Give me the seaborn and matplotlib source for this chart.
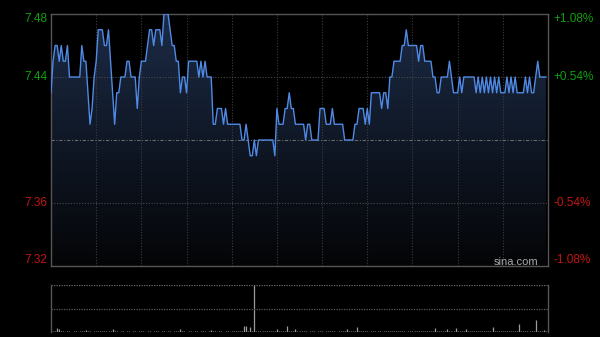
import numpy as np
import pandas as pd
import matplotlib
matplotlib.use("Agg")
import matplotlib.pyplot as plt
import seaborn as sns

# ---------------- data ----------------
prev_close = 7.40
price = [
    7.43, 7.45, 7.46, 7.46, 7.45, 7.46, 7.45, 7.45, 7.46, 7.44,
    7.44, 7.44, 7.44, 7.44, 7.44, 7.46, 7.45, 7.45, 7.43, 7.41,
    7.42, 7.44, 7.45, 7.47, 7.47, 7.47, 7.46, 7.46, 7.47, 7.45,
    7.43, 7.41, 7.43, 7.43, 7.44, 7.44, 7.44, 7.45, 7.45, 7.44,
    7.44, 7.44, 7.42, 7.44, 7.45, 7.45, 7.45, 7.46, 7.47, 7.47,
    7.46, 7.47, 7.47, 7.47, 7.46, 7.48, 7.48, 7.48, 7.47, 7.46,
    7.46, 7.45, 7.45, 7.43, 7.44, 7.44, 7.43, 7.45, 7.45, 7.45,
    7.45, 7.45, 7.44, 7.45, 7.44, 7.45, 7.44, 7.44, 7.44, 7.41,
    7.41, 7.42, 7.42, 7.42, 7.41, 7.42, 7.41, 7.41, 7.41, 7.41,
    7.41, 7.41, 7.41, 7.40, 7.40, 7.41, 7.40, 7.39, 7.39, 7.40,
    7.39, 7.40, 7.40, 7.40, 7.40, 7.40, 7.40, 7.40, 7.40, 7.39,
    7.42, 7.41, 7.41, 7.41, 7.42, 7.42, 7.43, 7.42, 7.42, 7.41,
    7.41, 7.41, 7.41, 7.41, 7.40, 7.41, 7.41, 7.40, 7.40, 7.40,
    7.40, 7.42, 7.42, 7.42, 7.41, 7.41, 7.41, 7.42, 7.41, 7.41,
    7.41, 7.41, 7.41, 7.40, 7.40, 7.40, 7.40, 7.40, 7.41, 7.41,
    7.42, 7.42, 7.42, 7.41, 7.42, 7.41, 7.43, 7.43, 7.43, 7.43,
    7.43, 7.42, 7.43, 7.43, 7.42, 7.44, 7.44, 7.45, 7.45, 7.45,
    7.45, 7.46, 7.46, 7.47, 7.46, 7.46, 7.46, 7.46, 7.46, 7.45,
    7.46, 7.46, 7.45, 7.45, 7.45, 7.45, 7.44, 7.44, 7.43, 7.43,
    7.44, 7.44, 7.44, 7.44, 7.45, 7.44, 7.43, 7.43, 7.43, 7.44,
    7.43, 7.44, 7.44, 7.44, 7.44, 7.44, 7.44, 7.43, 7.44, 7.43,
    7.44, 7.43, 7.44, 7.43, 7.44, 7.43, 7.44, 7.43, 7.44, 7.43,
    7.43, 7.43, 7.44, 7.43, 7.44, 7.43, 7.44, 7.43, 7.43, 7.43,
    7.43, 7.44, 7.43, 7.44, 7.43, 7.43, 7.44, 7.45, 7.44, 7.44,
    7.44, 7.44,
]
volume = [
    3, 2, 2, 8, 7, 2, 2, 1, 2, 2, 1, 2, 2, 1, 2, 2, 2, 4, 2, 2, 1, 2,
    2, 2, 2, 3, 2, 2, 2, 2, 6, 3, 2, 1, 2, 2, 1, 2, 2, 1, 2, 2, 1, 2,
    2, 2, 1, 2, 2, 1, 2, 2, 2, 1, 2, 2, 1, 2, 2, 1, 2, 2, 2, 6, 2, 2,
    1, 2, 2, 1, 2, 2, 1, 2, 2, 2, 1, 2, 4, 2, 2, 1, 2, 2, 1, 2, 2, 1,
    2, 2, 2, 2, 3, 2, 12, 13, 3, 11, 2, 100, 2, 2, 3, 2, 2, 2, 3, 2, 2, 2,
    6, 2, 2, 2, 3, 13, 2, 2, 2, 6, 2, 2, 2, 2, 2, 1, 2, 2, 2, 1, 2, 2,
    2, 1, 2, 2, 2, 2, 2, 1, 2, 2, 2, 2, 6, 2, 2, 2, 2, 10, 2, 2, 2, 2,
    2, 1, 2, 2, 2, 2, 2, 1, 2, 2, 2, 2, 2, 2, 3, 2, 2, 2, 2, 1, 2, 2,
    2, 2, 2, 2, 2, 2, 2, 2, 2, 2, 2, 8, 2, 2, 2, 2, 2, 6, 2, 2, 2, 8,
    2, 2, 2, 2, 6, 2, 2, 2, 2, 2, 2, 2, 2, 2, 2, 2, 2, 10, 2, 2, 2, 2,
    2, 2, 2, 2, 2, 2, 2, 2, 17, 2, 2, 2, 2, 2, 2, 2, 25, 2, 2, 2, 5, 3,
]
left_ticks = [7.48, 7.44, 7.36, 7.32]
left_labels = ["7.48", "7.44", "7.36", "7.32"]
right_labels = ["+1.08%", "+0.54%", "-0.54%", "-1.08%"]
watermark = "sina.com"

n_total = 242
df = pd.DataFrame({"minute": np.arange(len(price)), "price": price,
                   "volume": volume})

# ---------------- style ----------------
sns.set_theme(style="dark")
plt.rcParams["font.family"] = ["Liberation Sans", "DejaVu Sans"]

BG = "#000000"
GRID = "#3c3c3c"
BORDER = "#555555"
LINE = "#4f8ae6"
GREEN = "#11a011"
RED = "#c41414"

fig = plt.figure(figsize=(6.0, 3.37), dpi=100, facecolor=BG)
W, H = 600, 337
ax = fig.add_axes([51 / W, (H - 266) / H, 497 / W, (266 - 14) / H])
axv = fig.add_axes([51 / W, (H - 332) / H, 497 / W, (332 - 285) / H])

ymin, ymax = 7.32, 7.48
for a in (ax, axv):
    a.set_facecolor(BG)
    a.set_xlim(0, n_total)
    a.set_xticks([])
    a.set_yticks([])
    a.grid(False)

ax.set_ylim(ymin, ymax)

# gradient fill under the line
fill = ax.fill_between(df["minute"], df["price"], ymin, color="none", lw=0)
grad = np.linspace(1, 0, 256).reshape(-1, 1)
top_c = np.array([0x1c, 0x2b, 0x46]) / 255
bot_c = np.array([0x04, 0x05, 0x07]) / 255
img = top_c * grad[..., None] + bot_c * (1 - grad[..., None])
im = ax.imshow(img, extent=[0, n_total, ymin, ymax], aspect="auto",
               origin="upper", zorder=1)
path = fill.get_paths()[0]
im.set_clip_path(path, transform=ax.transData)

# grid lines
for k in range(1, 11):
    ax.axvline(22 * k, color=GRID, lw=0.8, ls=(0, (1, 1.5)), zorder=2)
for yv in (7.44, 7.36):
    ax.axhline(yv, color="#4a4a4a", lw=0.8, ls=(0, (1, 1.5)), zorder=2)
ax.axhline(prev_close, color="#6a6a6a", lw=0.8, ls=(0, (3, 1.5, 1, 1.5)),
           zorder=2)

sns.lineplot(data=df, x="minute", y="price", ax=ax, color=LINE, lw=1.0,
             zorder=4)
ax.set_xlabel("")
ax.set_ylabel("")

for s in ax.spines.values():
    s.set_color(BORDER)
    s.set_linewidth(1.0)
    s.set_visible(True)

# tick labels (edge labels nudged inside the plot range)
tr_l = matplotlib.transforms.blended_transform_factory(fig.transFigure, ax.transData)
px = (ymax - ymin) / 252.0
offs = [-5 * px, 0, 0, 6 * px]
for yv, ll, rl, off in zip(left_ticks, left_labels, right_labels, offs):
    col = GREEN if yv > prev_close else RED
    ax.text(47 / W, yv + off, ll, transform=tr_l, ha="right", va="center",
            color=col, fontsize=8.5)
    ax.text(553 / W, yv + off, rl, transform=tr_l, ha="left", va="center",
            color=col, fontsize=8.5)

ax.text(538 / W, (H - 262) / H, watermark, transform=fig.transFigure,
        ha="right", va="center", color="#a8a8a8", fontsize=8, zorder=5)

# volume panel
axv.set_ylim(0, 100)
axv.vlines(df["minute"], 0, df["volume"], color="#9a9a9a", lw=0.9)
axv.axhline(100, color="#6a6a6a", lw=0.9, ls=(0, (1, 1)))
axv.axhline(50, color="#5a5a5a", lw=0.9, ls=(0, (1, 1)))
for side in ("top", "bottom"):
    axv.spines[side].set_visible(False)
for side in ("left", "right"):
    axv.spines[side].set_color(BORDER)
    axv.spines[side].set_linewidth(1.0)

fig.savefig("out.png", dpi=100, facecolor=BG)
